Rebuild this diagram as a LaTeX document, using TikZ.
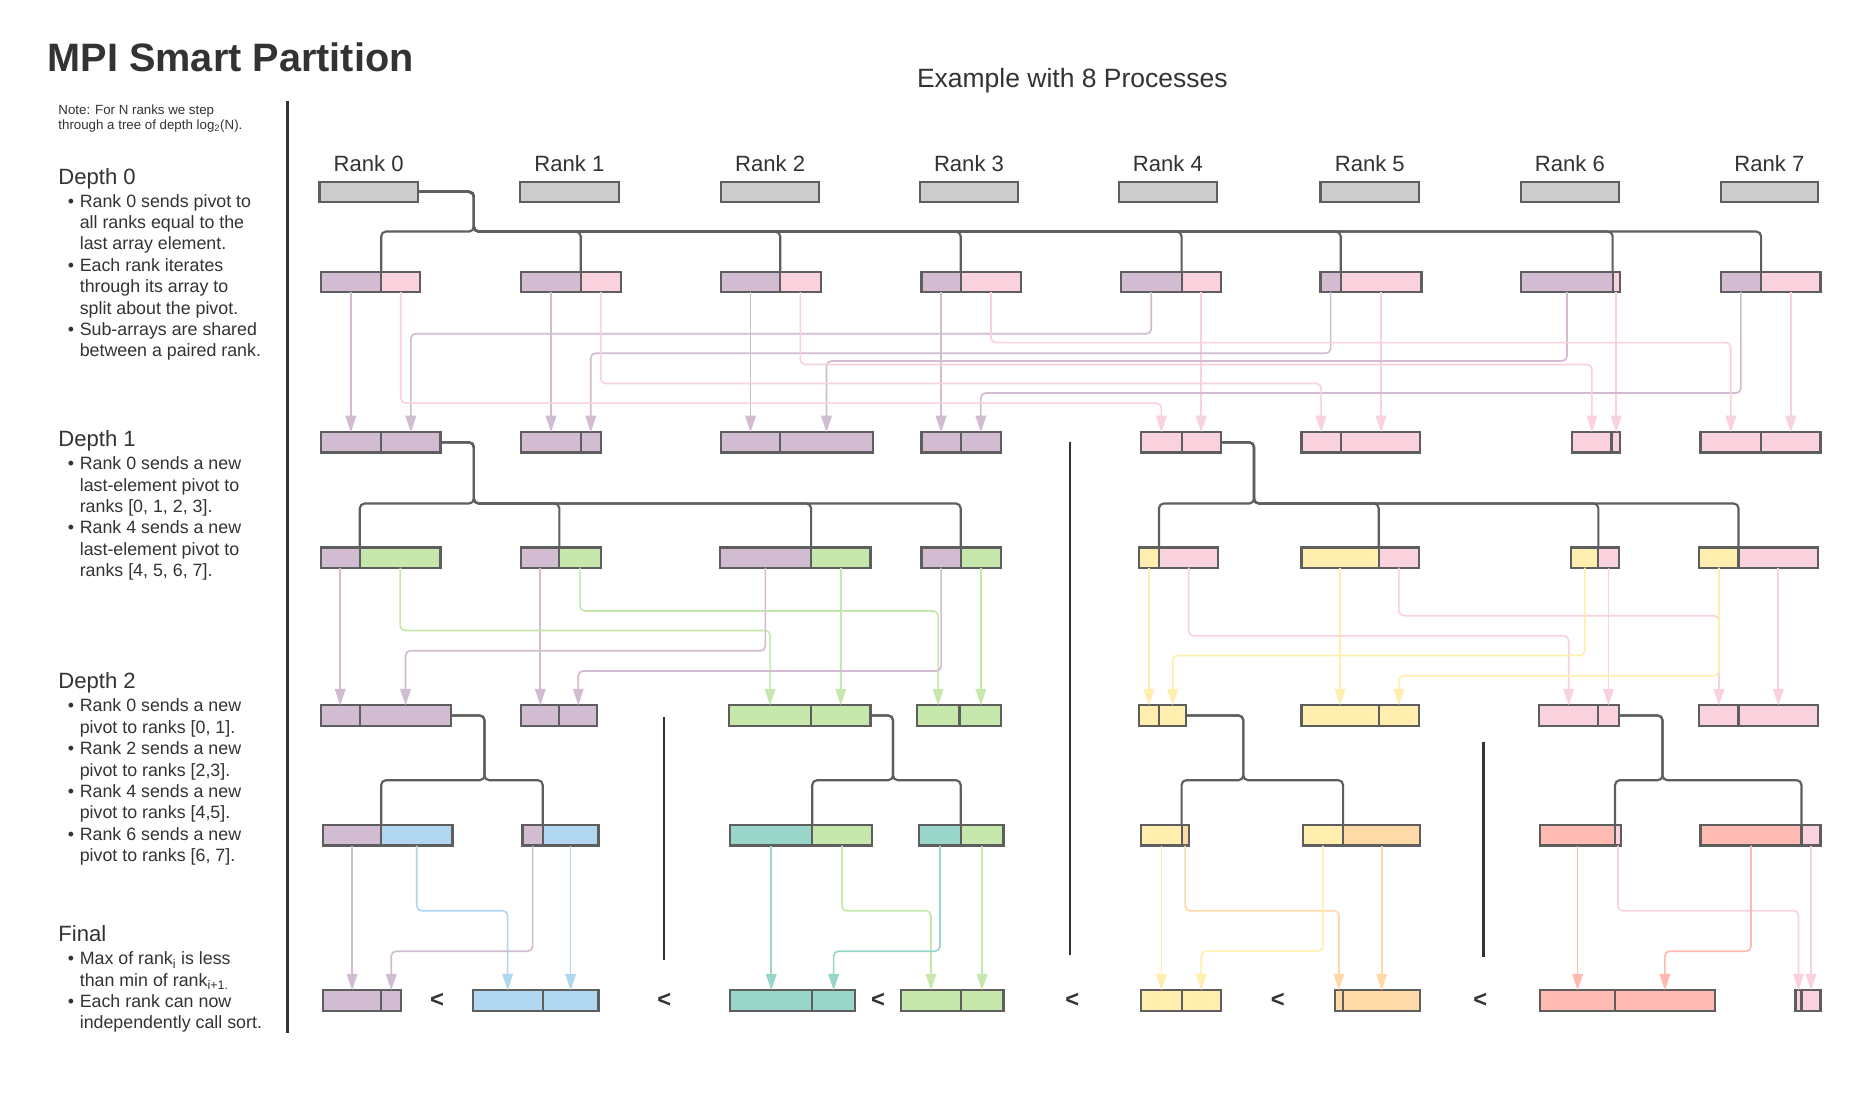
\documentclass[tikz,border=0pt]{standalone}
\usepackage{fontspec}
\setmainfont{Liberation Sans}
\usetikzlibrary{arrows.meta,positioning,calc}

\definecolor{ink}{HTML}{333333}
\definecolor{edge}{HTML}{5E5E5E}
\definecolor{boxgray}{HTML}{CCCCCC}
\definecolor{lilac}{HTML}{D1BCD2}
\definecolor{rose}{HTML}{F9D2DE}
\definecolor{leaf}{HTML}{C7E8AC}
\definecolor{butter}{HTML}{FFEEAD}
\definecolor{sky}{HTML}{B1D6F0}
\definecolor{mint}{HTML}{9AD5CA}
\definecolor{peach}{HTML}{FFDAA9}
\definecolor{coral}{HTML}{FFBBB1}

\tikzset{
  cell/.style={draw=edge, line width=1.8pt, minimum height=17pt, inner sep=0pt, outer sep=0pt},
  tree/.style={draw=edge, line width=1.8pt, rounded corners=4pt},
  flow/.style={draw=#1, line width=1.4pt, rounded corners=4pt, -{Triangle[length=14pt, width=9pt]}},
  divider/.style={draw=ink, line width=2.2pt},
  ranklbl/.style={text=ink, inner sep=0pt, font=\fontsize{18.6}{22}\selectfont},
  head/.style={text=ink, inner sep=0pt, font=\fontsize{18.6}{22}\selectfont},
  bullets/.style={text=ink, inner sep=0pt, font=\fontsize{15}{18}\selectfont},
  note/.style={text=ink, inner sep=0pt, font=\fontsize{11.2}{13}\selectfont},
  lt/.style={text=ink, inner sep=0pt, font=\bfseries\fontsize{20}{24}\selectfont},
}

\newcommand{\itm}{\makebox[10pt][l]{\textbullet}}
% one sub-array in two parts: name, left x, split x, right x, top y, colours
\newcommand{\subarr}[7]{%
  \node[cell, fill=#6, minimum width={(#3-#2)*1pt}, anchor=north west] (#1-l) at (#2,#5) {};
  \node[cell, fill=#7, minimum width={(#4-#3)*1pt}, anchor=north west] (#1-r) at (#3,#5) {};}
% part kept by the same rank / part sent to the paired rank
\newcommand{\sendstay}[3]{\draw[flow=#1] (#2.south) -- (#2.south |- #3.north);}
\newcommand{\sendcross}[4]{\draw[flow=#1] (#2.south) |- (#3.north |- 0,#4) -- (#3.north);}
% pivot broadcast: source, stem x, bus y, target
\newcommand{\bcast}[4]{\draw[tree] (#1.east) -| (#2,#3) -| (#4-l.north east);}

\begin{document}
\begin{tikzpicture}[x=1pt, y=-1pt]
\fill[white] (0,0) rectangle (1568,926);
\useasboundingbox (0,0) rectangle (1568,926);

% titles
\node[anchor=base west, text=ink, inner sep=0pt, font=\bfseries\fontsize{33.4}{40}\selectfont] (title) at (40,60) {MPI Smart Partition};
\node[anchor=base, text=ink, inner sep=0pt, font=\fontsize{22.3}{27}\selectfont] (example) at (903,74) {Example with 8 Processes};

% left column
\node[note, anchor=base west] (note) at (49,96) {\begin{tabular}[t]{@{}l@{}}Note: For N ranks we step\\through a tree of depth log\textsubscript{2}(N).\end{tabular}};
\node[head, anchor=base west] (depth0) at (49,155) {Depth 0};
\node[bullets, anchor=base west] (list0) at (57,174.5) {\begin{tabular}[t]{@{}l@{}l@{}}
  \itm & Rank 0 sends pivot to\\ & all ranks equal to the\\ & last array element.\\
  \itm & Each rank iterates\\ & through its array to\\ & split about the pivot.\\
  \itm & Sub-arrays are shared\\ & between a paired rank.\end{tabular}};
\node[head, anchor=base west] (depth1) at (49,376) {Depth 1};
\node[bullets, anchor=base west] (list1) at (57,395.5) {\begin{tabular}[t]{@{}l@{}l@{}}
  \itm & Rank 0 sends a new\\ & last-element pivot to\\ & ranks [0, 1, 2, 3].\\
  \itm & Rank 4 sends a new\\ & last-element pivot to\\ & ranks [4, 5, 6, 7].\end{tabular}};
\node[head, anchor=base west] (depth2) at (49,580) {Depth 2};
\node[bullets, anchor=base west] (list2) at (57,599.5) {\begin{tabular}[t]{@{}l@{}l@{}}
  \itm & Rank 0 sends a new\\ & pivot to ranks [0, 1].\\
  \itm & Rank 2 sends a new\\ & pivot to ranks [2,3].\\
  \itm & Rank 4 sends a new\\ & pivot to ranks [4,5].\\
  \itm & Rank 6 sends a new\\ & pivot to ranks [6, 7].\end{tabular}};
\node[head, anchor=base west] (final) at (49,793) {Final};
\node[bullets, anchor=base west] (list3) at (57,812.5) {\begin{tabular}[t]{@{}l@{}l@{}}
  \itm & Max of rank\textsubscript{i} is less\\ & than min of rank\textsubscript{i+1.}\\
  \itm & Each rank can now\\ & independently call sort.\end{tabular}};

% dividers
\draw[divider, line width=2.6pt] (242,85) -- (242,870);
\draw[divider] (901,372) -- (901,804);
\draw[divider] (559,604) -- (559,808);
\draw[divider] (1249,625) -- (1249,806);

% starting arrays
\foreach \i/\xa/\xb in {0/269/352, 1/438/521, 2/607/690, 3/775/857, 4/942/1025, 5/1112/1195, 6/1281/1363, 7/1449/1531}{
  \node[cell, fill=boxgray, minimum width={(\xb-\xa)*1pt}, anchor=north west] (a\i) at (\xa,153) {};
  \node[ranklbl, above=8pt of a\i] (rank\i) {Rank \i};
}

% depth 0 split
\foreach \i/\xa/\xs/\xb in {0/270/321/354, 1/439/489/523, 2/607/657/691, 3/776/809/860, 4/944/995/1028, 5/1112/1129/1197, 6/1281/1358/1364, 7/1449/1483/1533}
  \subarr{b\i}{\xa}{\xs}{\xb}{229}{lilac}{rose};
\foreach \i/\xa/\xs/\xb/\cl/\cr in {0/270/321/371/lilac/lilac, 1/439/489/506/lilac/lilac, 2/607/657/735/lilac/lilac, 3/776/809/843/lilac/lilac, 4/961/995/1028/rose/rose, 5/1096/1129/1196/rose/rose, 6/1324/1357/1364/rose/rose, 7/1432/1483/1533/rose/rose}
  \subarr{c\i}{\xa}{\xs}{\xb}{364}{\cl}{\cr};

% depth 1 split
\foreach \i/\xa/\xs/\xb/\cl/\cr in {0/270/303/371/lilac/leaf, 1/439/471/506/lilac/leaf, 2/606/683/733/lilac/leaf, 3/776/809/843/lilac/leaf, 4/959/976/1026/butter/rose, 5/1096/1161/1195/butter/rose, 6/1323/1346/1363/butter/rose, 7/1431/1464/1531/butter/rose}
  \subarr{d\i}{\xa}{\xs}{\xb}{461}{\cl}{\cr};
\foreach \i/\xa/\xs/\xb/\cl/\cr in {0/270/303/380/lilac/lilac, 1/439/471/503/lilac/lilac, 2/614/683/733/leaf/leaf, 3/772/808/843/leaf/leaf, 4/959/976/999/butter/butter, 5/1096/1161/1195/butter/butter, 6/1296/1346/1363/rose/rose, 7/1431/1464/1531/rose/rose}
  \subarr{e\i}{\xa}{\xs}{\xb}{594}{\cl}{\cr};

% depth 2 split
\foreach \i/\xa/\xs/\xb/\cl/\cr in {0/272/321/381/lilac/sky, 1/440/457/504/lilac/sky, 2/615/684/734/mint/leaf, 3/774/809/845/mint/leaf, 4/961/995/1001/butter/peach, 5/1097/1131/1196/butter/peach, 6/1297/1360/1365/coral/rose, 7/1432/1517/1533/coral/rose}
  \subarr{f\i}{\xa}{\xs}{\xb}{695}{\cl}{\cr};
\foreach \i/\xa/\xs/\xb/\cl/\cr in {0/272/321/338/lilac/lilac, 1/398/457/504/sky/sky, 2/615/684/720/mint/mint, 3/759/809/845/leaf/leaf, 4/961/995/1028/butter/butter, 5/1124/1131/1196/peach/peach, 6/1297/1360/1444/coral/coral, 7/1512/1517/1533/rose/rose}
  \subarr{g\i}{\xa}{\xs}{\xb}{834}{\cl}{\cr};

% pivot trees
\foreach \i in {0,...,7} \bcast{a0}{399}{195}{b\i};
\foreach \i in {0,...,3} \bcast{c0-r}{399}{424}{d\i};
\foreach \i in {4,...,7} \bcast{c4-r}{1056}{424}{d\i};
\foreach \s/\x/\i in {e0-r/408/0, e0-r/408/1, e2-r/752/2, e2-r/752/3, e4-r/1047/4, e4-r/1047/5, e6-r/1400/6, e6-r/1400/7}
  \bcast{\s}{\x}{657}{f\i};

% sends after depth 0
\foreach \c/\s/\t in {lilac/b0-l/c0-l, lilac/b1-l/c1-l, lilac/b2-l/c2-l, lilac/b3-l/c3-l, rose/b4-r/c4-r, rose/b5-r/c5-r, rose/b6-r/c6-r, rose/b7-r/c7-r}
  \sendstay{\c}{\s}{\t};
\foreach \c/\s/\t/\y in {lilac/b4-l/c0-r/281, lilac/b5-l/c1-r/297.5, lilac/b6-l/c2-r/304, lilac/b7-l/c3-r/331, rose/b0-r/c4-l/339.5, rose/b1-r/c5-l/323, rose/b2-r/c6-l/307, rose/b3-r/c7-l/288.5}
  \sendcross{\c}{\s}{\t}{\y};

% sends after depth 1
\foreach \c/\s/\t in {lilac/d0-l/e0-l, lilac/d1-l/e1-l, leaf/d2-r/e2-r, leaf/d3-r/e3-r, butter/d4-l/e4-l, butter/d5-l/e5-l, rose/d6-r/e6-r, rose/d7-r/e7-r}
  \sendstay{\c}{\s}{\t};
\foreach \c/\s/\t/\y in {leaf/d0-r/e2-l/531, leaf/d1-r/e3-l/514.5, lilac/d2-l/e0-r/548, lilac/d3-l/e1-r/565, rose/d4-r/e6-l/535.5, rose/d5-r/e7-l/518.5, butter/d6-l/e4-r/552, butter/d7-l/e5-r/569}
  \sendcross{\c}{\s}{\t}{\y};

% sends after depth 2
\foreach \c/\s/\t in {lilac/f0-l/g0-l, sky/f1-r/g1-r, mint/f2-l/g2-l, leaf/f3-r/g3-r, butter/f4-l/g4-l, peach/f5-r/g5-r, coral/f6-l/g6-l, rose/f7-r/g7-r}
  \sendstay{\c}{\s}{\t};
\foreach \c/\s/\t/\y in {sky/f0-r/g1-l/767, lilac/f1-l/g0-r/801, leaf/f2-r/g3-l/767, mint/f3-l/g2-r/801, peach/f4-r/g5-l/767, butter/f5-l/g4-r/801, rose/f6-r/g7-l/767, coral/f7-l/g6-r/801}
  \sendcross{\c}{\s}{\t}{\y};

% ordering of the final arrays
\foreach \i/\j in {0/1, 1/2, 2/3, 3/4, 4/5, 5/6}
  \node[lt] (lt\i) at ($(g\i-r.east)!0.5!(g\j-l.west)$) {<};
\end{tikzpicture}
\end{document}
